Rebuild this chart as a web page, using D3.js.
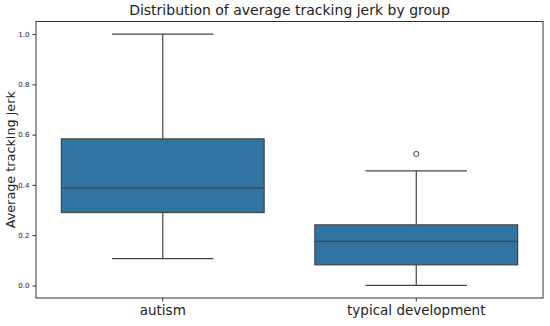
<!DOCTYPE html>
<html>
<head>
<meta charset="utf-8">
<script src="https://cdn.jsdelivr.net/npm/d3@7"></script>
<style>
  body { margin: 0; background: #fff; }
  text { font-family: "DejaVu Sans", sans-serif; }
</style>
</head>
<body>
<script>
// box summaries per group
const groups = ["autism", "typical development"];
const whiskerLow = [0.107, 0.0];
const q1 = [0.29, 0.082];
const median = [0.388, 0.175];
const q3 = [0.583, 0.241];
const whiskerHigh = [1.0, 0.456];
const outliers = [[], [0.523]];
const yTicks = [0.0, 0.2, 0.4, 0.6, 0.8, 1.0];

const width = 550, height = 326;
const margin = {top: 21.5, right: 7, bottom: 28, left: 36};

const boxColor = "#3274a1";
const lineColor = "#444";

const svg = d3.select("body")
  .append("svg")
  .attr("width", width)
  .attr("height", height);

const x = d3.scaleBand()
  .domain(groups)
  .range([margin.left, width - margin.right])
  .paddingInner(0.2)
  .paddingOuter(0.1);

const y = d3.scaleLinear()
  .domain([-0.05, 1.05])
  .range([height - margin.bottom, margin.top]);

// frame
svg.append("rect")
  .attr("x", margin.left)
  .attr("y", margin.top)
  .attr("width", width - margin.left - margin.right)
  .attr("height", height - margin.top - margin.bottom)
  .attr("fill", "none")
  .attr("stroke", "#333")
  .attr("stroke-width", 1);

// y axis
const yAxis = svg.append("g")
  .attr("transform", `translate(${margin.left},0)`)
  .call(d3.axisLeft(y).tickValues(yTicks).tickFormat(d3.format(".1f")).tickSize(3.5).tickPadding(3));
yAxis.select(".domain").remove();
yAxis.selectAll("text").attr("font-size", 7).attr("fill", "#222");
yAxis.selectAll("line").attr("stroke", "#333");

// x axis
const xAxis = svg.append("g")
  .attr("transform", `translate(0,${height - margin.bottom})`)
  .call(d3.axisBottom(x).tickSize(3.5).tickPadding(4));
xAxis.select(".domain").remove();
xAxis.selectAll("text").attr("font-size", 13.5).attr("fill", "#222");
xAxis.selectAll("line").attr("stroke", "#333");

// boxes
const g = svg.selectAll("g.box")
  .data(groups)
  .enter()
  .append("g")
  .attr("class", "box");

const cx = (d) => x(d) + x.bandwidth() / 2;
const capHalf = x.bandwidth() / 4;

g.append("line")
  .attr("x1", cx).attr("x2", cx)
  .attr("y1", (d, i) => y(whiskerHigh[i]))
  .attr("y2", (d, i) => y(q3[i]))
  .attr("stroke", lineColor).attr("stroke-width", 1.2);

g.append("line")
  .attr("x1", cx).attr("x2", cx)
  .attr("y1", (d, i) => y(q1[i]))
  .attr("y2", (d, i) => y(whiskerLow[i]))
  .attr("stroke", lineColor).attr("stroke-width", 1.2);

g.append("line")
  .attr("x1", (d) => cx(d) - capHalf).attr("x2", (d) => cx(d) + capHalf)
  .attr("y1", (d, i) => y(whiskerHigh[i]))
  .attr("y2", (d, i) => y(whiskerHigh[i]))
  .attr("stroke", lineColor).attr("stroke-width", 1.2);

g.append("line")
  .attr("x1", (d) => cx(d) - capHalf).attr("x2", (d) => cx(d) + capHalf)
  .attr("y1", (d, i) => y(whiskerLow[i]))
  .attr("y2", (d, i) => y(whiskerLow[i]))
  .attr("stroke", lineColor).attr("stroke-width", 1.2);

g.append("rect")
  .attr("x", (d) => x(d))
  .attr("width", x.bandwidth())
  .attr("y", (d, i) => y(q3[i]))
  .attr("height", (d, i) => y(q1[i]) - y(q3[i]))
  .attr("fill", boxColor)
  .attr("stroke", lineColor)
  .attr("stroke-width", 1.2);

g.append("line")
  .attr("x1", (d) => x(d)).attr("x2", (d) => x(d) + x.bandwidth())
  .attr("y1", (d, i) => y(median[i]))
  .attr("y2", (d, i) => y(median[i]))
  .attr("stroke", lineColor).attr("stroke-width", 1.2);

g.selectAll("circle")
  .data((d, i) => outliers[i].map((v) => ({g: d, v: v})))
  .enter()
  .append("circle")
  .attr("cx", (o) => cx(o.g))
  .attr("cy", (o) => y(o.v))
  .attr("r", 2.6)
  .attr("fill", "none")
  .attr("stroke", lineColor)
  .attr("stroke-width", 1);

// title and y label
svg.append("text")
  .text("Distribution of average tracking jerk by group")
  .attr("x", (margin.left + width - margin.right) / 2)
  .attr("y", 15)
  .attr("text-anchor", "middle")
  .attr("font-size", 14)
  .attr("fill", "#222");

svg.append("text")
  .text("Average tracking jerk")
  .attr("transform", `translate(15,${(margin.top + height - margin.bottom) / 2}) rotate(-90)`)
  .attr("text-anchor", "middle")
  .attr("font-size", 12.8)
  .attr("fill", "#222");
</script>
</body>
</html>
